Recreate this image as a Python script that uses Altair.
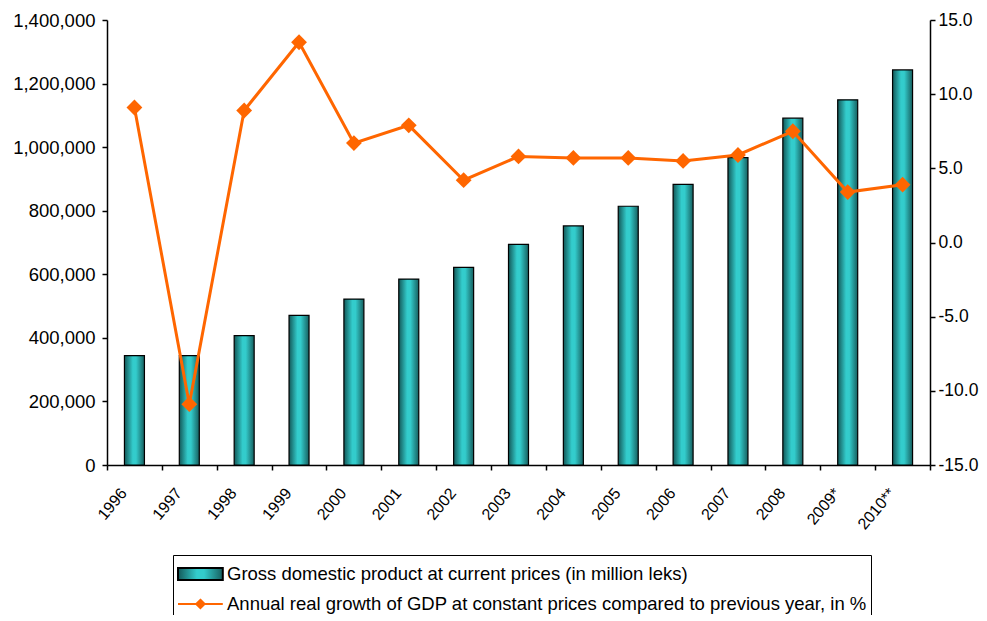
import altair as alt
import pandas as pd

# ---- data ----
years = ["1996", "1997", "1998", "1999", "2000", "2001", "2002", "2003",
         "2004", "2005", "2006", "2007", "2008", "2009*", "2010**"]
gdp = [344000, 344000, 407000, 471000, 522000, 585000, 622000, 694000,
       752000, 814000, 883000, 967000, 1091000, 1149000, 1243000]
growth = [9.1, -10.9, 8.9, 13.5, 6.7, 7.9, 4.2, 5.8,
          5.7, 5.7, 5.5, 5.9, 7.5, 3.4, 3.9]

gdp_label = "Gross domestic product at current prices (in million leks)"
growth_label = "Annual real growth of GDP at constant prices compared to previous year, in %"

left_ticks = [0, 200000, 400000, 600000, 800000, 1000000, 1200000, 1400000]
right_ticks = [-15, -10, -5, 0, 5, 10, 15]

df = pd.DataFrame({"year": years, "gdp": gdp, "growth": growth, "series": growth_label})

FONT = "Liberation Sans"
ORANGE = "#ff6600"

bar_gradient = {
    "gradient": "linear", "x1": 0, "y1": 0, "x2": 1, "y2": 0,
    "stops": [
        {"offset": 0, "color": "#135858"},
        {"offset": 0.42, "color": "#33cccc"},
        {"offset": 0.58, "color": "#33cccc"},
        {"offset": 1, "color": "#175f5f"},
    ],
}

x_enc = alt.X(
    "year:N", sort=years,
    scale=alt.Scale(paddingInner=0, paddingOuter=0),
    axis=alt.Axis(title=None, labelAngle=310, labelAlign="right", labelBaseline="middle",
                  labelFontSize=16, labelOffset=-11, labelPadding=20, tickBand="extent",
                  tickSize=5),
)

bars = alt.Chart(df).mark_bar(size=20, fill=bar_gradient, stroke="black", strokeWidth=1.2).encode(
    x=x_enc,
    y=alt.Y("gdp:Q", scale=alt.Scale(domain=[0, 1400000], nice=False),
            axis=alt.Axis(title=None, orient="left", values=left_ticks, format=",d",
                          labelFontSize=18.5, tickSize=5, labelPadding=7)),
)

sym_expr = ("datum.index === 0 ? 'M-1,-0.43H2.2V0.43H-1Z' : "
            "'M-1,0H2.2M0.6,-0.3L0.9,0L0.6,0.3L0.3,0Z'")
fill_expr = ("datum.index === 0 ? {gradient: 'linear', x1: 0, y1: 0, x2: 1, y2: 0, "
             "stops: [{offset: 0, color: '#135858'}, {offset: 0.42, color: '#33cccc'}, "
             "{offset: 0.58, color: '#33cccc'}, {offset: 1, color: '#175f5f'}]} : '#ff6600'")

legend = alt.Legend(
    title=None, orient="none", legendX=66, legendY=535, direction="vertical",
    strokeColor="black", fillColor="white", padding=4,
    labelFont=FONT, labelFontSize=18.5, labelColor="black", labelLimit=900,
    labelOffset=20, rowPadding=4, symbolSize=784, symbolStrokeWidth=2,
    symbolType={"expr": sym_expr}, symbolFillColor={"expr": fill_expr},
)

right_axis = alt.Axis(title=None, orient="right", values=right_ticks,
                      labelExpr="datum.value < 0 ? '-' + format(-datum.value, '.1f') : format(datum.value, '.1f')",
                      labelFontSize=17.5, tickSize=5, labelPadding=3)

y_right = alt.Y("growth:Q", scale=alt.Scale(domain=[-15, 15], nice=False), axis=right_axis)

line = alt.Chart(df).mark_line(strokeWidth=3).encode(
    x=x_enc,
    y=y_right,
    color=alt.Color("series:N",
                    scale=alt.Scale(domain=[gdp_label, growth_label], range=["#000000", ORANGE]),
                    legend=legend),
)

points = alt.Chart(df).mark_point(shape="diamond", filled=True, size=250, color=ORANGE, opacity=1).encode(
    x=x_enc,
    y=y_right,
)

chart = alt.layer(bars, alt.layer(line, points)).resolve_scale(y="independent").properties(
    width=823, height=445, autosize="none",
    padding={"left": 99, "top": 12, "right": 49, "bottom": 150},
).configure_view(stroke="transparent").configure_axis(
    grid=False, domainColor="black", tickColor="black", labelColor="black",
    labelFont=FONT, domainWidth=1.5, tickWidth=1.5,
)

chart.save("out.html", embed_options={"renderer": "svg", "actions": False})
